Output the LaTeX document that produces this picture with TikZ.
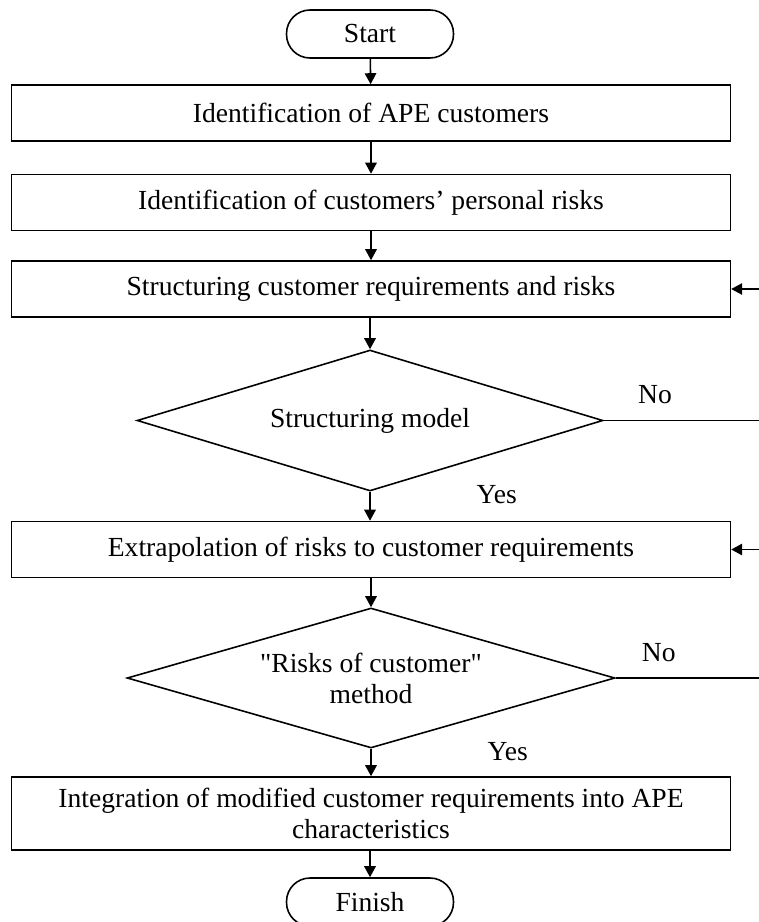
\documentclass[tikz,border=0pt]{standalone}
\usepackage{fontspec}
\setmainfont{Liberation Serif}[Ligatures=TeXOff]
\usetikzlibrary{shapes.geometric,arrows.meta,positioning}
\begin{document}
\begin{tikzpicture}[x=0.02cm,y=-0.02cm,
    font=\fontsize{15.7}{17.6}\selectfont,
    line width=0.9pt,
    arr/.style={-{Triangle[length=2.2mm,width=2.3mm]}},
    stepbox/.style={draw,rectangle,minimum width=14.38cm,minimum height=1.12cm,inner sep=0pt},
    term/.style={draw,rectangle,rounded corners=0.47cm,minimum width=3.34cm,minimum height=0.96cm,inner sep=0pt},
    decide/.style={draw,diamond,inner sep=0pt}]
      \useasboundingbox (0,0) rectangle (759,922);
      \node[term] (start) at (370,34) {Start};
      \node[stepbox] (ident) at (371,113) {Identification of APE customers};
      \node[stepbox] (risks) at (371,202.5) {Identification of customers’ personal risks};
      \node[stepbox] (struct) at (371,289) {Structuring customer requirements and risks};
      \node[decide,aspect=3.3,minimum width=9.32cm,minimum height=2.82cm] (model) at (370,420.5) {Structuring model};
      \node[stepbox] (extra) at (371,549.5) {Extrapolation of risks to customer requirements};
      \node[decide,aspect=3.49,minimum width=9.76cm,minimum height=2.8cm,align=center] (method) at (371,678) {"Risks of customer"\\method};
      \node[stepbox,minimum height=1.46cm,align=center] (integr) at (371,813.5) {Integration of modified customer requirements into APE\\characteristics};
      \node[term] (finish) at (370,902) {Finish};
      \coordinate (in1) at (759,289);
      \coordinate (out1) at (759,420.5);
      \coordinate (in2) at (759,549.5);
      \coordinate (out2) at (759,678);
      \draw[arr] (start) -- (ident);
      \draw[arr] (ident) -- (risks);
      \draw[arr] (risks) -- (struct);
      \draw[arr] (struct.south -| model.north) -- (model);
      \draw[arr] (model) -- node[pos=0.1,right=2cm] {Yes} (extra.north -| model.south);
      \draw[arr] (extra) -- (method);
      \draw[arr] (method) -- node[pos=0.1,right=2.2cm] {Yes} (integr);
      \draw[arr] (integr.south -| finish.north) -- (finish);
      \draw (model.east) -- node[pos=0.33,above=0.2cm] {No} (out1);
      \draw (method.east) -- node[pos=0.3,above=0.2cm] {No} (out2);
      \draw[arr] (in1) -- (struct.east);
      \draw[arr] (in2) -- (extra.east);
    \end{tikzpicture}
\end{document}
